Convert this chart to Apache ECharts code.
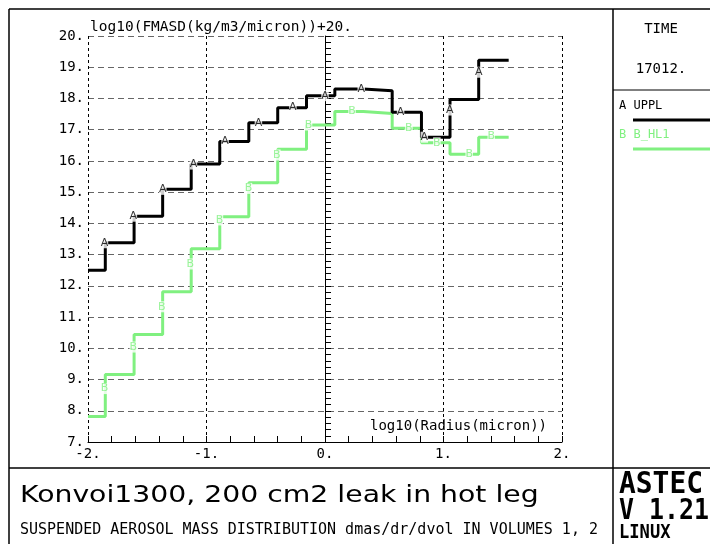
<!DOCTYPE html>
<html><head><meta charset="utf-8">
<script src="https://cdn.jsdelivr.net/npm/echarts@6/dist/echarts.min.js"></script>
<style>html,body{margin:0;padding:0;background:#fff}#c{width:710px;height:544px}</style>
</head><body><div id="c"></div>
<script>
// step edges in log10(radius) and level values (log10(FMASD)+20)
const xEdges = [-2, -1.854, -1.611, -1.370, -1.129, -0.888, -0.643, -0.399, -0.156, 0.083, 0.324, 0.567, 0.814, 1.055, 1.297, 1.55];
const uppl = [12.50, 13.38, 14.23, 15.09, 15.90, 16.62, 17.22, 17.70, 18.09, 18.30, 18.25, 17.56, 16.76, 17.97, 19.22, 19.22];
const bhl1 = [7.82, 9.16, 10.44, 11.81, 13.19, 14.21, 15.30, 16.37, 17.15, 17.58, 17.52, 17.05, 16.58, 16.21, 16.76, 16.76];
// curve identification letters placed along the curves
const upplMarkX = [-1.861, -1.617, -1.369, -1.110, -0.843, -0.562, -0.271, 0.0, 0.306, 0.638, 0.838, 1.052, 1.297];
const upplMarkY = [13.38, 14.23, 15.09, 15.90, 16.62, 17.22, 17.72, 18.09, 18.30, 17.56, 16.76, 17.63, 18.84];
const bhl1MarkX = [-1.861, -1.618, -1.378, -1.136, -0.891, -0.646, -0.406, -0.139, 0.228, 0.708, 0.944, 1.217, 1.403];
const bhl1MarkY = [8.71, 10.04, 11.33, 12.70, 14.11, 15.12, 16.19, 17.15, 17.60, 17.06, 16.58, 16.21, 16.78];
const xTickLabels = ['-2.', '-1.', '0.', '1.', '2.'];
const yTickLabels = ['7.', '8.', '9.', '10.', '11.', '12.', '13.', '14.', '15.', '16.', '17.', '18.', '19.', '20.'];
const seriesNames = ['UPPL', 'B_HL1'];
const seriesLetters = ['A', 'B'];
const timeValue = '17012.';

const GREEN = '#80f080';
const MONO = 'DejaVu Sans Mono';
const chart = echarts.init(document.getElementById('c'), null, {renderer: 'canvas'});

function pairs(xs, ys) { return xs.map((x, i) => [x, ys[i]]); }
function markSeries(xs, ys, letter, color) {
  return {
    type: 'scatter', data: pairs(xs, ys), symbolSize: 0, z: 5, silent: true,
    label: {show: true, position: 'inside', formatter: letter, color: color,
      fontFamily: 'DejaVu Sans', fontSize: 11, backgroundColor: '#fff', padding: [0, 0]}
  };
}

const line = (x1, y1, x2, y2, w, c) => ({type: 'line', shape: {x1, y1, x2, y2}, style: {stroke: c || '#000', lineWidth: w || 1}, silent: true});
const text = (x, y, t, o) => Object.assign({type: 'text', x, y, style: Object.assign({text: t, fill: '#000', font: '14px ' + MONO}, o && o.style)}, o && o.el);

chart.setOption({
  animation: false,
  backgroundColor: '#fff',
  grid: {left: 88, top: 36, width: 474, height: 406, containLabel: false},
  xAxis: {
    type: 'value', min: -2, max: 2, interval: 1,
    axisLine: {show: true, lineStyle: {color: '#000', width: 1}},
    axisTick: {show: true, inside: true, length: 6, lineStyle: {color: '#000'}},
    minorTick: {show: true, splitNumber: 5, length: 6, lineStyle: {color: '#000'}},
    splitLine: {show: true, lineStyle: {color: '#000', type: [3, 3], width: 1}},
    axisLabel: {color: '#000', fontFamily: MONO, fontSize: 14, margin: 5,
      formatter: v => xTickLabels[Math.round(v + 2)]}
  },
  yAxis: {
    type: 'value', min: 7, max: 20, interval: 1,
    axisLine: {show: true, lineStyle: {color: '#000', width: 1}},
    axisTick: {show: true, inside: true, length: 6, lineStyle: {color: '#000'}},
    minorTick: {show: true, splitNumber: 5, length: 6, lineStyle: {color: '#000'}},
    splitLine: {show: true, lineStyle: {color: '#666', type: [6, 4], width: 1}},
    axisLabel: {color: '#000', fontFamily: MONO, fontSize: 14, margin: 4,
      formatter: v => yTickLabels[Math.round(v - 7)]}
  },
  series: [
    {name: seriesNames[0], type: 'line', step: 'end', data: pairs(xEdges, uppl), showSymbol: false, symbol: 'none',
      lineStyle: {color: '#000', width: 3}, z: 3},
    {name: seriesNames[1], type: 'line', step: 'end', data: pairs(xEdges, bhl1), showSymbol: false, symbol: 'none',
      lineStyle: {color: GREEN, width: 3}, z: 2},
    markSeries(upplMarkX, upplMarkY, seriesLetters[0], '#000'),
    markSeries(bhl1MarkX, bhl1MarkY, seriesLetters[1], GREEN)
  ],
  graphic: {elements: [
    line(9, 9, 710, 9, 1.5),
    line(9, 9, 9, 544, 1.5),
    line(9, 468, 710, 468, 1.5),
    line(613, 9, 613, 544, 1.5),
    line(613, 90, 710, 90, 1),
    text(90, 20, 'log10(FMASD(kg/m3/micron))+20.', {style: {font: '14.5px ' + MONO}}),
    text(370, 419, 'log10(Radius(micron))', {style: {font: '14px ' + MONO}}),
    text(661, 22, 'TIME', {style: {textAlign: 'center', font: '14px ' + MONO}}),
    text(661, 62, timeValue, {style: {textAlign: 'center', font: '14px ' + MONO}}),
    text(619, 100, seriesLetters[0] + ' ' + seriesNames[0], {style: {font: '12px ' + MONO}}),
    line(633, 120, 710, 120, 3, '#000'),
    text(619, 129, seriesLetters[1] + ' ' + seriesNames[1], {style: {font: '12px ' + MONO, fill: GREEN}}),
    line(633, 149, 710, 149, 3, GREEN),
    text(20, 485, 'Konvoi1300, 200 cm2 leak in hot leg', {style: {font: '23px DejaVu Sans'}, el: {scaleX: 1.23}}),
    text(20, 523, 'SUSPENDED AEROSOL MASS DISTRIBUTION dmas/dr/dvol IN VOLUMES 1, 2', {style: {font: '15px ' + MONO}}),
    text(619, 470, 'ASTEC', {style: {font: 'bold 30px ' + MONO}, el: {scaleX: 0.93}}),
    text(619, 498, 'V 1.21', {style: {font: 'bold 28px ' + MONO}, el: {scaleX: 0.89}}),
    text(619, 524, 'LINUX', {style: {font: 'bold 19px ' + MONO}, el: {scaleX: 0.9}})
  ]}
});
</script></body></html>
